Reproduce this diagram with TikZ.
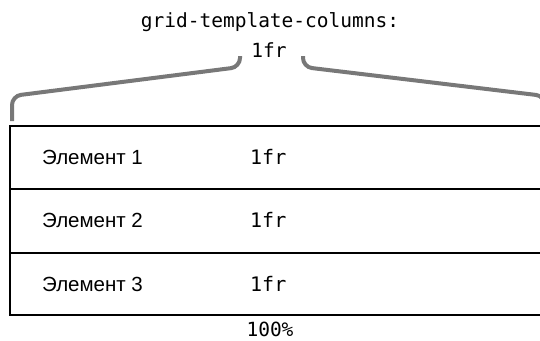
\documentclass[tikz,border=0pt]{standalone}
\usepackage{fontspec}
\setmainfont{Liberation Sans}
\newfontfamily\codefont{DejaVu Sans Mono}
\begin{document}
\begin{tikzpicture}[x=1pt,y=-1pt,
  code/.style={font=\codefont\fontsize{19.5}{22}\selectfont, inner sep=0pt, anchor=center},
  cell/.style={font=\codefont\fontsize{20}{22}\selectfont, inner sep=0pt, anchor=west},
  label/.style={font=\fontsize{20.5}{22}\selectfont, inner sep=0pt, anchor=west},
  bracket/.style={draw=black!53, line width=4pt, rounded corners=9pt},
  rowline/.style={draw=black, line width=1.5pt}]
\useasboundingbox (0,0) rectangle (540,340);
\clip (0,0) rectangle (540,340);
\node[code] (title) at (270,22) {grid-template-columns:};
\node[code] (topfr) at (269,50) {1fr};
\draw[bracket] (12,121) -- (12,96) -- (240,67) -- (240,56);
\draw[bracket] (303,56) -- (303,67) -- (545,96) -- (545,121);
\draw[rowline] (560,126) -- (10,126) -- (10,315) -- (560,315);
\draw[rowline] (10,189) -- (560,189);
\draw[rowline] (10,253) -- (560,253);
\node[label] (e1) at (42,157) {Элемент 1};
\node[label] (e2) at (42,220) {Элемент 2};
\node[label] (e3) at (42,284) {Элемент 3};
\node[cell] (f1) at (250,157) {1fr};
\node[cell] (f2) at (250,220) {1fr};
\node[cell] (f3) at (250,284) {1fr};
\node[code, anchor=base] (pct) at (270,336) {100\%};
\end{tikzpicture}
\end{document}
